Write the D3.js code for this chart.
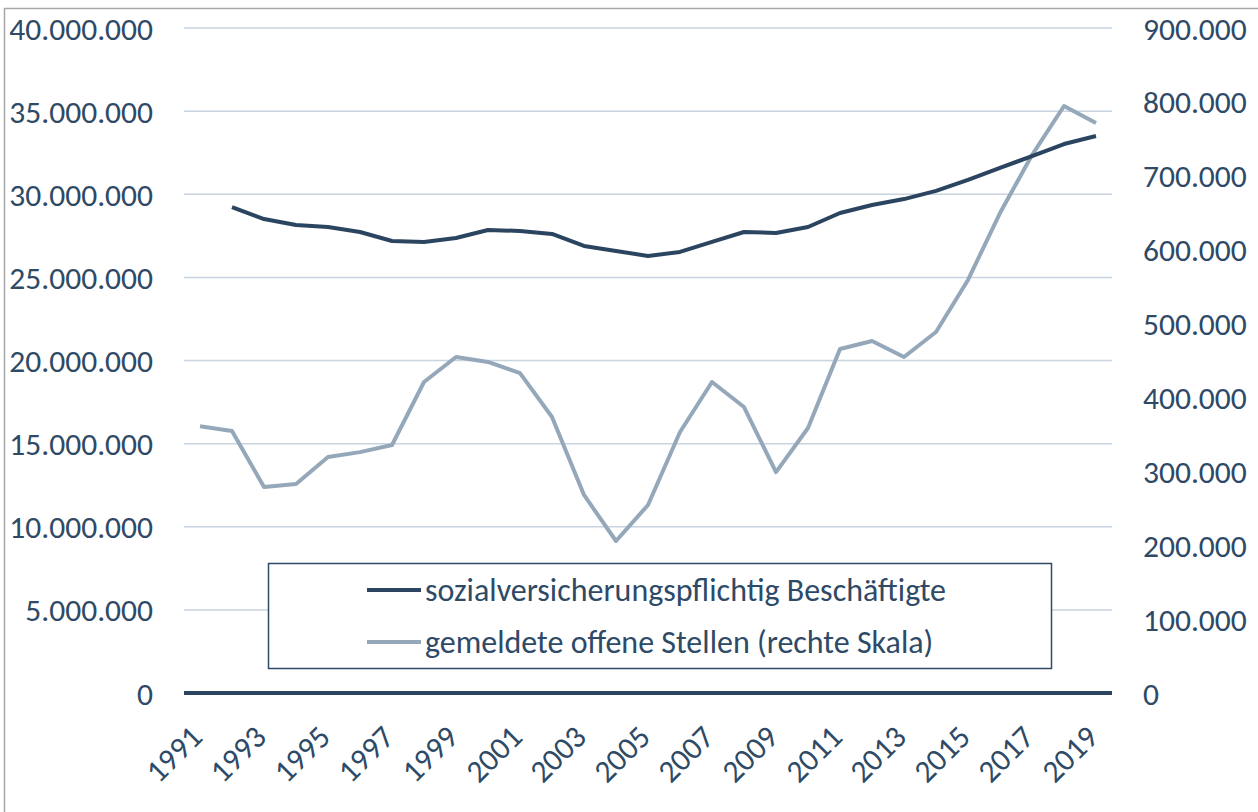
<!DOCTYPE html>
<html><head><meta charset="utf-8">
<script src="https://cdn.jsdelivr.net/npm/d3@7"></script>
<style>
html,body{margin:0;padding:0;background:#fff;}
svg text{font-family:Carlito,Lato,"Open Sans",sans-serif;fill:#2E4A66;}
</style></head>
<body><svg id="c" width="1258" height="812"></svg>
<script>
const years = d3.range(1991, 2020).map(String);
const beschaeftigte = [null, 29230000, 28510000, 28150000, 28030000, 27730000, 27190000, 27130000, 27370000, 27850000, 27790000, 27610000, 26890000, 26590000, 26290000, 26530000, 27130000, 27730000, 27670000, 28030000, 28870000, 29350000, 29710000, 30200000, 30860000, 31580000, 32300000, 33020000, 33500000];
const offeneStellen = [361000, 354600, 278800, 282900, 319400, 326000, 335600, 420900, 454700, 448000, 433000, 373500, 268000, 205700, 254400, 353200, 420900, 387000, 299000, 358600, 465600, 476400, 454700, 488600, 559000, 649600, 728000, 794400, 771400];
const leftTicks = [0, 5000000, 10000000, 15000000, 20000000, 25000000, 30000000, 35000000, 40000000];
const rightTicks = [0, 100000, 200000, 300000, 400000, 500000, 600000, 700000, 800000, 900000];
const xLabels = years.filter((d, i) => i % 2 === 0);
const seriesNames = ["sozialversicherungspflichtig Beschäftigte", "gemeldete offene Stellen (rechte Skala)"];

const svg = d3.select("#c");
const L = 184, R = 1112, T = 28, B = 693;
const x = d3.scaleBand().domain(years).range([L, R]);
const yL = d3.scaleLinear().domain([0, 40000000]).range([B, T]);
const yR = d3.scaleLinear().domain([0, 900000]).range([B, T]);
const fmt = v => d3.format(",")(v).replace(/,/g, ".");
const AX = 31.5;

// outer frame
svg.append("path").attr("d", "M4.5,812 V8.5 H1258").attr("fill", "none").attr("stroke", "#A6A6A6").attr("stroke-width", 1.5);

// grid
svg.append("g").selectAll("line").data(leftTicks.slice(1)).join("line")
  .attr("x1", L).attr("x2", R).attr("y1", d => yL(d)).attr("y2", d => yL(d))
  .attr("stroke", "#C8D4E0").attr("stroke-width", 1.5);

// left axis
const gl = svg.append("g").attr("transform", `translate(153,0)`)
  .call(d3.axisLeft(yL).tickValues(leftTicks).tickFormat(fmt).tickSize(0).tickPadding(0));
gl.select(".domain").remove();
gl.selectAll("text").attr("font-size", AX).attr("dy", "0.35em");

// right axis
const gr = svg.append("g").attr("transform", `translate(1143,0)`)
  .call(d3.axisRight(yR).tickValues(rightTicks).tickFormat(fmt).tickSize(0).tickPadding(0));
gr.select(".domain").remove();
gr.selectAll("text").attr("font-size", AX).attr("dy", "0.35em");

// zero line
svg.append("line").attr("x1", L).attr("x2", R).attr("y1", B).attr("y2", B)
  .attr("stroke", "#2B4560").attr("stroke-width", 4);

const cx = d => x(d) + x.bandwidth() / 2;

// x labels
svg.append("g").selectAll("text").data(xLabels).join("text")
  .attr("font-size", AX).attr("text-anchor", "end")
  .attr("transform", d => `translate(${cx(d) + 4},${B + 46}) rotate(-45)`)
  .text(d => d);

// lines
const line1 = d3.line().defined(d => d.v != null).x(d => cx(d.y)).y(d => yL(d.v));
const line2 = d3.line().x(d => cx(d.y)).y(d => yR(d.v));
svg.append("path").datum(years.map((y, i) => ({y, v: offeneStellen[i]})))
  .attr("d", line2).attr("fill", "none").attr("stroke", "#95A8BA").attr("stroke-width", 4).attr("stroke-linejoin", "round");
svg.append("path").datum(years.map((y, i) => ({y, v: beschaeftigte[i]})))
  .attr("d", line1).attr("fill", "none").attr("stroke", "#2B4560").attr("stroke-width", 4).attr("stroke-linejoin", "round");

// legend
const lg = svg.append("g");
lg.append("rect").attr("x", 268.5).attr("y", 563.5).attr("width", 783).attr("height", 105)
  .attr("fill", "#fff").attr("stroke", "#2E4A66").attr("stroke-width", 1.5);
const colors = ["#2B4560", "#95A8BA"];
seriesNames.forEach((n, i) => {
  const yy = 590 + i * 52;
  lg.append("line").attr("x1", 367).attr("x2", 421).attr("y1", yy).attr("y2", yy)
    .attr("stroke", colors[i]).attr("stroke-width", 4);
  lg.append("text").attr("x", 425).attr("y", yy).attr("dy", "0.35em").attr("font-size", 32).text(n);
});
</script></body></html>
